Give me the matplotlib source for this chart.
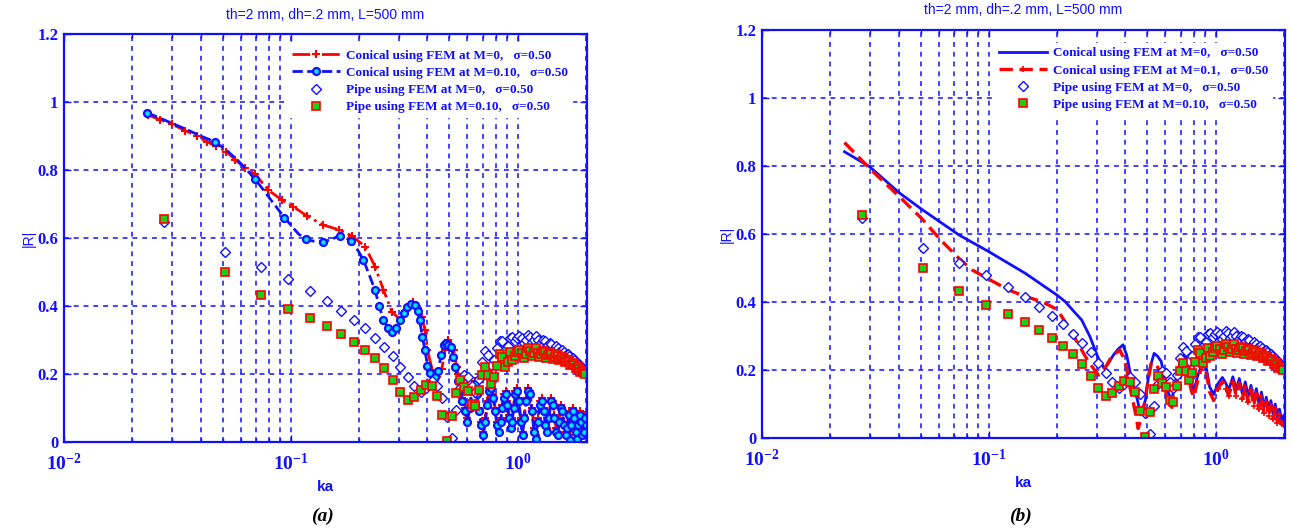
import matplotlib
matplotlib.use("Agg")
import matplotlib.pyplot as plt
from matplotlib.ticker import FixedLocator, FixedFormatter, LogLocator, NullFormatter

plt.rcParams['mathtext.fontset'] = 'custom'
plt.rcParams['mathtext.bf'] = 'Liberation Serif:bold'
plt.rcParams['mathtext.rm'] = 'Liberation Serif:bold'
plt.rcParams['mathtext.default'] = 'bf'

# ---------------- data ----------------
# straight pipe (FEM), same points on both panels
pipe_ka = [0.0277, 0.0513, 0.0739, 0.0969, 0.1215, 0.144, 0.1665, 0.190, 0.2124, 0.235,
           0.258, 0.281, 0.304, 0.327, 0.350, 0.373, 0.396, 0.419, 0.442, 0.465,
           0.488, 0.511, 0.534, 0.557, 0.580, 0.603, 0.626, 0.649, 0.672, 0.695,
           0.718, 0.741, 0.764, 0.787, 0.810, 0.833, 0.856, 0.879, 0.902, 0.925,
           0.948, 0.971, 0.994, 1.017, 1.040, 1.063, 1.086, 1.109, 1.132, 1.155,
           1.178, 1.201, 1.224, 1.247, 1.270, 1.293, 1.316, 1.339, 1.362, 1.385,
           1.408, 1.431, 1.454, 1.477, 1.500, 1.523, 1.546, 1.569, 1.592, 1.615,
           1.638, 1.661, 1.684, 1.707, 1.730, 1.753, 1.776, 1.799, 1.822, 1.845,
           1.868, 1.891, 1.914, 1.937, 1.960, 1.983]
pipe_m0 = [0.648, 0.558, 0.514, 0.478, 0.444, 0.415, 0.385, 0.360, 0.334, 0.306,
           0.278, 0.252, 0.222, 0.192, 0.165, 0.148, 0.160, 0.178, 0.164, 0.130,
           0.075, 0.012, 0.095, 0.160, 0.196, 0.190, 0.165, 0.147, 0.186, 0.236,
           0.268, 0.255, 0.226, 0.242, 0.276, 0.298, 0.296, 0.272, 0.282, 0.305,
           0.310, 0.298, 0.306, 0.313, 0.305, 0.290, 0.300, 0.314, 0.308, 0.293,
           0.300, 0.311, 0.300, 0.286, 0.292, 0.301, 0.296, 0.280, 0.285, 0.292,
           0.287, 0.272, 0.276, 0.283, 0.277, 0.264, 0.268, 0.272, 0.265, 0.254,
           0.257, 0.260, 0.253, 0.242, 0.244, 0.246, 0.240, 0.230, 0.231, 0.232,
           0.226, 0.217, 0.217, 0.218, 0.212, 0.207]
pipe_m010 = [0.655, 0.501, 0.432, 0.391, 0.364, 0.341, 0.318, 0.295, 0.272, 0.248,
             0.218, 0.182, 0.147, 0.124, 0.133, 0.152, 0.169, 0.166, 0.135, 0.078,
             0.004, 0.077, 0.143, 0.182, 0.162, 0.150, 0.112, 0.106, 0.153, 0.198,
             0.221, 0.196, 0.172, 0.190, 0.224, 0.258, 0.249, 0.220, 0.236, 0.264,
             0.240, 0.252, 0.266, 0.270, 0.262, 0.246, 0.258, 0.276, 0.268, 0.252,
             0.262, 0.277, 0.263, 0.250, 0.259, 0.269, 0.264, 0.248, 0.255, 0.263,
             0.258, 0.244, 0.250, 0.258, 0.252, 0.240, 0.245, 0.250, 0.244, 0.234,
             0.238, 0.242, 0.236, 0.226, 0.229, 0.232, 0.226, 0.217, 0.219, 0.221,
             0.215, 0.207, 0.208, 0.210, 0.204, 0.199]

# conical duct, panel (a)
cone_a_m0_ka = [0.0234, 0.0265, 0.0298, 0.0342, 0.0385, 0.0426, 0.047, 0.052, 0.057, 0.0628,
                0.0695, 0.0796, 0.0911, 0.1026, 0.1177, 0.139, 0.1637, 0.186, 0.2124, 0.235,
                0.256, 0.279, 0.303, 0.317, 0.331, 0.346, 0.362, 0.377, 0.39, 0.40,
                0.42, 0.44, 0.463, 0.478, 0.493, 0.508, 0.523, 0.538, 0.545, 0.557,
                0.570, 0.585, 0.60, 0.615, 0.63, 0.645, 0.66, 0.675, 0.69, 0.705,
                0.72, 0.735, 0.75, 0.765, 0.78, 0.795, 0.81, 0.825, 0.84, 0.855,
                0.87, 0.885, 0.90, 0.915, 0.93, 0.945, 0.96, 0.975, 0.99, 1.01,
                1.03, 1.05, 1.07, 1.09, 1.11, 1.13, 1.155, 1.18, 1.20, 1.225,
                1.25, 1.275, 1.30, 1.325, 1.35, 1.375, 1.40, 1.425, 1.45, 1.475,
                1.50, 1.525, 1.55, 1.575, 1.60, 1.625, 1.65, 1.675, 1.70, 1.725,
                1.75, 1.775, 1.80, 1.825, 1.85, 1.875, 1.90, 1.925, 1.95, 1.975, 2.0]
cone_a_m0 = [0.962, 0.948, 0.935, 0.916, 0.900, 0.883, 0.870, 0.854, 0.830, 0.805,
             0.788, 0.741, 0.712, 0.692, 0.665, 0.638, 0.624, 0.606, 0.575, 0.516,
             0.447, 0.383, 0.360, 0.385, 0.403, 0.413, 0.395, 0.368, 0.330, 0.270,
             0.212, 0.190, 0.216, 0.270, 0.300, 0.285, 0.270, 0.220, 0.200, 0.170,
             0.130, 0.100, 0.070, 0.110, 0.160, 0.180, 0.150, 0.100, 0.060, 0.030,
             0.070, 0.120, 0.160, 0.170, 0.140, 0.100, 0.060, 0.035, 0.070, 0.110,
             0.140, 0.150, 0.120, 0.080, 0.045, 0.070, 0.110, 0.150, 0.160, 0.130,
             0.070, 0.030, 0.080, 0.130, 0.160, 0.150, 0.100, 0.040, 0.020, 0.070,
             0.120, 0.130, 0.100, 0.060, 0.040, 0.080, 0.130, 0.120, 0.080, 0.040,
             0.030, 0.070, 0.110, 0.100, 0.060, 0.030, 0.050, 0.090, 0.020, 0.060,
             0.100, 0.080, 0.040, 0.020, 0.060, 0.090, 0.070, 0.030, 0.040, 0.080, 0.060]

cone_a_m010_ka = [0.0233, 0.026, 0.030, 0.035, 0.040, 0.0463, 0.052, 0.058, 0.064, 0.0695,
                  0.075, 0.081, 0.087, 0.0936, 0.100, 0.108, 0.1163, 0.125, 0.139, 0.150,
                  0.164, 0.175, 0.184, 0.195, 0.209, 0.222, 0.235, 0.245, 0.256, 0.268,
                  0.279, 0.290, 0.303, 0.315, 0.326, 0.340, 0.352, 0.362, 0.369, 0.380,
                  0.390, 0.400, 0.411, 0.430, 0.445, 0.460, 0.475, 0.483, 0.495, 0.510,
                  0.520, 0.530, 0.545, 0.557, 0.570, 0.585, 0.60, 0.615, 0.63, 0.645,
                  0.66, 0.675, 0.69, 0.705, 0.72, 0.735, 0.75, 0.765, 0.78, 0.795,
                  0.81, 0.825, 0.84, 0.855, 0.87, 0.885, 0.90, 0.915, 0.93, 0.945,
                  0.96, 0.975, 0.99, 1.01, 1.03, 1.05, 1.07, 1.09, 1.11, 1.13,
                  1.155, 1.18, 1.20, 1.225, 1.25, 1.275, 1.30, 1.325, 1.35, 1.375,
                  1.40, 1.425, 1.45, 1.475, 1.50, 1.525, 1.55, 1.575, 1.60, 1.625,
                  1.65, 1.675, 1.70, 1.725, 1.75, 1.775, 1.80, 1.825, 1.85, 1.875,
                  1.90, 1.925, 1.95, 1.975, 2.0]
cone_a_m010 = [0.968, 0.955, 0.937, 0.918, 0.900, 0.883, 0.858, 0.830, 0.800, 0.773,
               0.745, 0.715, 0.688, 0.660, 0.638, 0.612, 0.597, 0.591, 0.589, 0.595,
               0.607, 0.600, 0.591, 0.570, 0.535, 0.490, 0.447, 0.400, 0.359, 0.335,
               0.324, 0.335, 0.359, 0.380, 0.398, 0.405, 0.403, 0.385, 0.359, 0.310,
               0.270, 0.225, 0.202, 0.190, 0.210, 0.255, 0.285, 0.290, 0.285, 0.280,
               0.250, 0.220, 0.180, 0.150, 0.120, 0.090, 0.060, 0.100, 0.150, 0.170,
               0.140, 0.090, 0.050, 0.020, 0.060, 0.110, 0.150, 0.160, 0.130, 0.090,
               0.050, 0.030, 0.060, 0.100, 0.130, 0.140, 0.110, 0.070, 0.040, 0.060,
               0.100, 0.140, 0.150, 0.120, 0.060, 0.020, 0.070, 0.120, 0.150, 0.140,
               0.090, 0.030, 0.010, 0.060, 0.110, 0.120, 0.090, 0.050, 0.030, 0.070,
               0.120, 0.110, 0.070, 0.030, 0.020, 0.060, 0.100, 0.090, 0.050, 0.020,
               0.040, 0.080, 0.005, 0.050, 0.090, 0.070, 0.030, 0.010, 0.050, 0.080,
               0.060, 0.020, 0.030, 0.070, 0.050]
# circle markers on the M=0.10 cone curve
cone_a_m010_marks = [0, 5, 9, 13, 16, 18, 20, 22, 24] + list(range(26, 125))

# conical duct, panel (b)
cone_b_m0_ka = [0.0231, 0.0298, 0.0403, 0.0505, 0.0739, 0.100, 0.145, 0.200, 0.217, 0.235,
                0.2566, 0.279, 0.304, 0.322, 0.338, 0.354, 0.372, 0.390, 0.405, 0.4235,
                0.4515, 0.467, 0.49, 0.51, 0.535, 0.555, 0.575, 0.594, 0.62, 0.64,
                0.66, 0.69, 0.73, 0.755, 0.77, 0.80, 0.83, 0.86, 0.89, 0.915,
                0.94, 0.98, 1.02, 1.07, 1.11, 1.14, 1.19, 1.23, 1.27, 1.31,
                1.35, 1.39, 1.43, 1.47, 1.51, 1.55, 1.59, 1.63, 1.67, 1.71,
                1.75, 1.79, 1.83, 1.87, 1.91, 1.95, 1.98, 2.0]
cone_b_m0 = [0.842, 0.798, 0.721, 0.673, 0.597, 0.548, 0.484, 0.420, 0.401, 0.375,
             0.347, 0.298, 0.234, 0.205, 0.222, 0.244, 0.262, 0.274, 0.244, 0.180,
             0.112, 0.068, 0.112, 0.200, 0.249, 0.240, 0.225, 0.180, 0.131, 0.110,
             0.159, 0.213, 0.249, 0.210, 0.166, 0.136, 0.180, 0.210, 0.235, 0.195,
             0.150, 0.128, 0.159, 0.178, 0.160, 0.140, 0.180, 0.140, 0.175, 0.130,
             0.165, 0.120, 0.155, 0.110, 0.145, 0.100, 0.135, 0.090, 0.120, 0.080,
             0.110, 0.070, 0.100, 0.060, 0.085, 0.050, 0.065, 0.048]

cone_b_m01_ka = [0.0231, 0.0298, 0.0403, 0.0505, 0.0614, 0.0739, 0.0845, 0.100, 0.1225, 0.145,
                 0.1714, 0.200, 0.224, 0.247, 0.275, 0.304, 0.325, 0.347, 0.378, 0.40,
                 0.418, 0.44, 0.455, 0.48, 0.503, 0.52, 0.55, 0.59, 0.615, 0.64,
                 0.66, 0.69, 0.73, 0.755, 0.78, 0.80, 0.83, 0.86, 0.89, 0.915,
                 0.94, 0.98, 1.02, 1.07, 1.11, 1.14, 1.19, 1.23, 1.27, 1.31,
                 1.35, 1.39, 1.43, 1.47, 1.51, 1.55, 1.59, 1.63, 1.67, 1.71,
                 1.75, 1.79, 1.83, 1.87, 1.91, 1.95, 2.0]
cone_b_m01 = [0.869, 0.793, 0.710, 0.646, 0.582, 0.528, 0.494, 0.467, 0.435, 0.416,
              0.401, 0.378, 0.327, 0.278, 0.224, 0.185, 0.205, 0.239, 0.259, 0.224,
              0.151, 0.082, 0.028, 0.082, 0.168, 0.220, 0.215, 0.160, 0.110, 0.090,
              0.140, 0.200, 0.235, 0.190, 0.140, 0.120, 0.165, 0.200, 0.220, 0.180,
              0.135, 0.110, 0.145, 0.165, 0.145, 0.125, 0.165, 0.125, 0.160, 0.115,
              0.150, 0.105, 0.140, 0.095, 0.130, 0.085, 0.120, 0.075, 0.105, 0.065,
              0.095, 0.055, 0.085, 0.045, 0.070, 0.040, 0.040]

panel_title = "th=2 mm, dh=.2 mm, L=500 mm"
labels_a = ["Conical using FEM at M=0,   \u03c3=0.50",
            "Conical using FEM at M=0.10,   \u03c3=0.50",
            "Pipe using FEM at M=0,   \u03c3=0.50",
            "Pipe using FEM at M=0.10,   \u03c3=0.50"]
labels_b = ["Conical using FEM at M=0,   \u03c3=0.50",
            "Conical using FEM at M=0.1,   \u03c3=0.50",
            "Pipe using FEM at M=0,   \u03c3=0.50",
            "Pipe using FEM at M=0.10,   \u03c3=0.50"]
y_ticks = [0, 0.2, 0.4, 0.6, 0.8, 1.0, 1.2]
y_ticklabels = ["0", "0.2", "0.4", "0.6", "0.8", "1", "1.2"]
x_ticks = [0.01, 0.1, 1.0]
x_ticklabels = [r"$10^{-2}$", r"$10^{-1}$", r"$10^{0}$"]

# ---------------- drawing ----------------
BLUE = "#1010ff"
GREEN = "#18d018"
W, H = 1291, 529
fig = plt.figure(figsize=(W / 100, H / 100), dpi=100)
ax_a = fig.add_axes([64 / W, 1 - 442 / H, 523 / W, 408 / H])
ax_b = fig.add_axes([762 / W, 1 - 438 / H, 523 / W, 408 / H])


def style_axes(ax):
    ax.set_xscale("log")
    ax.set_xlim(0.01, 2.02)
    ax.set_ylim(0, 1.2)
    ax.xaxis.set_major_locator(FixedLocator(x_ticks))
    ax.xaxis.set_major_formatter(FixedFormatter(x_ticklabels))
    ax.xaxis.set_minor_locator(LogLocator(base=10, subs=[2, 3, 4, 5, 6, 7, 8, 9], numticks=20))
    ax.xaxis.set_minor_formatter(NullFormatter())
    ax.yaxis.set_major_locator(FixedLocator(y_ticks))
    ax.yaxis.set_major_formatter(FixedFormatter(y_ticklabels))
    ax.set_axisbelow(True)
    gkw = dict(color=BLUE, linestyle=(0, (3.2, 3.2)), linewidth=1.1)
    ax.grid(True, which="major", axis="both", **gkw)
    ax.grid(True, which="minor", axis="x", **gkw)
    for sp in ax.spines.values():
        sp.set_color(BLUE)
        sp.set_linewidth(1.6)
    ax.tick_params(which="both", direction="in", top=True, right=True, color=BLUE,
                   labelcolor=BLUE)
    ax.tick_params(which="major", length=5, width=1.0)
    ax.tick_params(which="minor", length=3, width=1.0)
    ax.tick_params(axis="y", labelsize=12, pad=4)
    ax.tick_params(axis="x", labelsize=14, pad=8)
    for lab in ax.get_yticklabels():
        lab.set_fontfamily("Liberation Serif")
        lab.set_fontweight("bold")
    ax.set_xlabel("ka", fontsize=11, fontweight="bold", color=BLUE, family="Liberation Sans")
    ax.xaxis.set_label_coords(0.5, -0.11)
    ax.xaxis.label.set_va("center")
    ax.set_ylabel("|R|", fontsize=10, color=BLUE, family="Liberation Sans")
    ax.yaxis.set_label_coords(-0.068, 0.5)
    ax.yaxis.label.set_va("center")


def add_legend(ax, anchor):
    leg = ax.legend(loc="upper right", bbox_to_anchor=anchor, frameon=True,
                    fancybox=False, framealpha=1, edgecolor="white", facecolor="white",
                    prop={"family": "Liberation Serif", "weight": "bold", "size": 9.5},
                    handlelength=3.6, handletextpad=0.5, labelspacing=0.38,
                    borderpad=0.3, borderaxespad=0)
    for t in leg.get_texts():
        t.set_color(BLUE)
    return leg


def draw_pipe(ax, lab0, lab1):
    ax.plot(pipe_ka, pipe_m0, ls="none", marker="D", ms=5, mfc="white", mec=BLUE,
            mew=1.0, label=lab0)
    ax.plot(pipe_ka, pipe_m010, ls="none", marker="s", ms=5.5, mfc=GREEN, mec="red",
            mew=1.2, label=lab1)


# panel (a)
style_axes(ax_a)
ax_a.plot(cone_a_m0_ka, cone_a_m0, color="red", ls="-.", lw=2, marker="+", ms=6, mew=1.5,
          label=labels_a[0])
ax_a.plot(cone_a_m010_ka, cone_a_m010, color=BLUE, ls="--", lw=2, marker="o", ms=5,
          mfc="#00e5ff", mec=BLUE, mew=1.6, markevery=cone_a_m010_marks, label=labels_a[1])
draw_pipe(ax_a, labels_a[2], labels_a[3])
add_legend(ax_a, (0.972, 0.972))

# panel (b)
style_axes(ax_b)
ax_b.plot(cone_b_m0_ka, cone_b_m0, color=BLUE, ls="-", lw=2, label=labels_b[0])
ax_b.plot(cone_b_m01_ka, cone_b_m01, color="red", ls=(0, (4, 2)), lw=2.4, marker="+",
          ms=5, mew=1.2, markevery=list(range(42, 67)), label=labels_b[1])
draw_pipe(ax_b, labels_b[2], labels_b[3])
add_legend(ax_b, (0.976, 0.968))

# titles and sub-captions
fig.text((64 + 587) / 2 / W, 1 - 15 / H, panel_title, ha="center", va="center",
         color=BLUE, fontsize=10, family="Liberation Sans")
fig.text((762 + 1285) / 2 / W, 1 - 10 / H, panel_title, ha="center", va="center",
         color=BLUE, fontsize=10, family="Liberation Sans")
fig.text(322 / W, 1 - 516 / H, "(a)", ha="center", va="center", fontsize=14,
         family="Liberation Serif", fontweight="bold", fontstyle="italic", color="black")
fig.text(1020 / W, 1 - 516 / H, "(b)", ha="center", va="center", fontsize=14,
         family="Liberation Serif", fontweight="bold", fontstyle="italic", color="black")

fig.savefig("out.png", dpi=100)
